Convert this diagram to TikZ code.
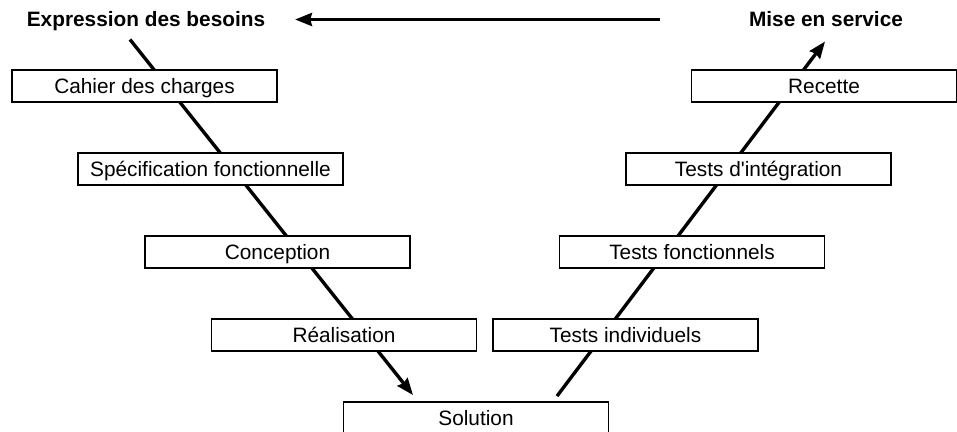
\documentclass[tikz,border=0pt]{standalone}
\usepackage{fontspec}
\setmainfont{Liberation Sans}
\usetikzlibrary{arrows.meta, backgrounds}

\begin{document}
\begin{tikzpicture}[
    x=0.025cm, y=-0.025cm,
    box/.style={draw, line width=1.3pt, fill=white, minimum width=6.625cm,
                minimum height=0.8cm, inner sep=0pt,
                text height=10.6pt, text depth=0pt,
                font=\fontsize{14.8}{17}\selectfont},
    ends/.style={font=\fontsize{14.8}{17}\selectfont\bfseries, inner sep=0pt,
                 text height=10.6pt, text depth=0pt},
    vline/.style={line width=2.4pt},
    arr/.style={vline, -{Stealth[length=0.42cm, width=0.32cm, inset=0.04cm]}}
]
\useasboundingbox (0,0) rectangle (957,432);

% Ends of the V
\node[ends] (expr) at (146,19.5) {Expression des besoins};
\node[ends] (mise) at (826,19.5) {Mise en service};

% Left branch
\node[box] (cahier) at (144.5,86)  {Cahier des charges};
\node[box] (spec)   at (210.5,169) {Spécification fonctionnelle};
\node[box] (conc)   at (277.5,252) {Conception};
\node[box] (real)   at (344,335)   {Réalisation};

% Bottom
\node[box] (sol)    at (476,418)   {Solution};

% Right branch
\node[box] (indiv)   at (625.5,335) {Tests individuels};
\node[box] (fonct)   at (692,252)   {Tests fonctionnels};
\node[box] (integ)   at (758.5,169) {Tests d\textquotesingle intégration};
\node[box] (recette) at (824,86)    {Recette};

% Arrows
\begin{scope}[on background layer]
\draw[arr] ([shift={(-16,20)}]expr.center) -- ([shift={(-63,-6)}]sol.north);
\draw[arr] ([shift={(81,-5)}]sol.north) -- ([shift={(-1,22)}]mise.center);
\end{scope}
\draw[arr, line width=2.8pt] ([shift={(-166,0)}]mise.center) -- ([shift={(149,0)}]expr.center);

\end{tikzpicture}
\end{document}
